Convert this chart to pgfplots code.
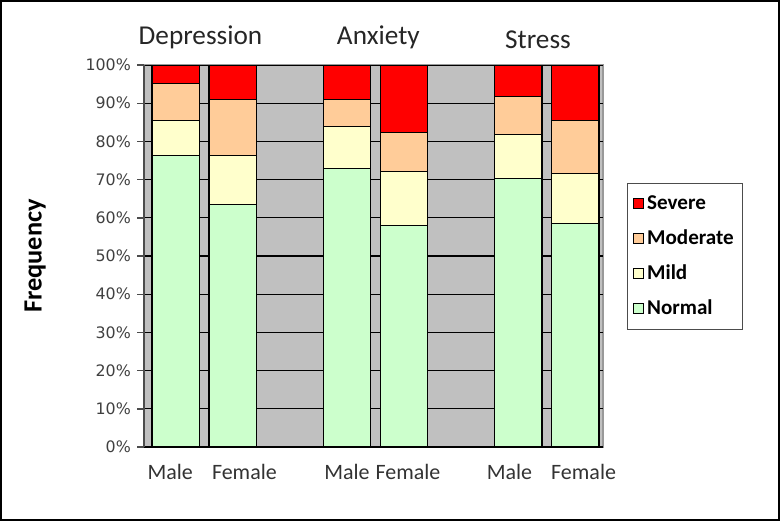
\documentclass[border=0pt]{standalone}
\usepackage{pgfplots}
\pgfplotsset{compat=1.18}
\usepackage{fontspec}
\setmainfont{Carlito}
\newfontfamily\tickfont{DejaVu Sans}

\definecolor{bgray}{RGB}{192,192,192}
\definecolor{cnormal}{RGB}{204,255,204}
\definecolor{cmild}{RGB}{255,255,204}
\definecolor{cmoderate}{RGB}{255,204,153}
\definecolor{csevere}{RGB}{255,0,0}

\begin{document}
\begin{tikzpicture}
\begin{axis}[
    scale only axis,
    width=9.18cm, height=7.64cm,
    ybar stacked,
    bar width=0.84,
    xmin=-0.56, xmax=7.49,
    ymin=0, ymax=100,
    clip=false,
    axis background/.style={fill=bgray, draw=gray!80, line width=0.8pt},
    axis y line*=left,
    axis x line=none,
    y axis line style={draw=black!70, line width=0.8pt, -},
    ytick={0,10,...,100},
    yticklabel={\pgfmathprintnumber{\tick}\%},
    yticklabel style={font=\tickfont\fontsize{9}{10}\selectfont, text=black!75},
    /pgf/number format/assume math mode=true,
    ytick style={draw=black!70, line width=0.8pt},
    tick align=outside,
    major tick length=4pt,
    ymajorgrids,
    major grid style={black, line width=0.6pt},
    ylabel={\textbf{Frequency}},
    ylabel style={font=\fontsize{15}{17}\selectfont, at={(-2.18cm,0.5)}, anchor=center},
    legend style={
      at={(rel axis cs:1,0.5)}, xshift=0.48cm,
      anchor=west,
      draw=black!70, fill=white,
      font=\bfseries\fontsize{12}{14}\selectfont,
      row sep=6pt, inner xsep=3pt, inner ysep=5pt
    },
    legend cell align=left,
    reverse legend,
    legend image code/.code={\draw[#1, draw=black] (0cm,-0.1cm) rectangle (0.2cm,0.1cm);},
    every axis plot/.append style={draw=black, line width=0.6pt},
]
\addplot[fill=cnormal] coordinates {(0,76.2) (1,63.5) (3,72.9) (4,58.0) (6,70.4) (7,58.6)};
\addlegendentry{Normal}
\addplot[fill=cmild] coordinates {(0,9.3) (1,12.9) (3,11.1) (4,14.2) (6,11.4) (7,12.9)};
\addlegendentry{Mild}
\addplot[fill=cmoderate] coordinates {(0,9.7) (1,14.6) (3,7.0) (4,10.2) (6,9.9) (7,13.9)};
\addlegendentry{Moderate}
\addplot[fill=csevere] coordinates {(0,4.8) (1,9.0) (3,9.0) (4,17.6) (6,8.3) (7,14.6)};
\addlegendentry{Severe}

% category labels under the bars
\tikzset{catlab/.style={font=\fontsize{12.5}{14}\selectfont, text=black!80}}
\node[catlab] at (axis cs:-0.1,-6.6) {Male};
\node[catlab] at (axis cs:1.2,-6.6) {Female};
\node[catlab] at (axis cs:3,-6.6) {Male};
\node[catlab] at (axis cs:4.07,-6.6) {Female};
\node[catlab] at (axis cs:5.85,-6.6) {Male};
\node[catlab] at (axis cs:7.15,-6.6) {Female};
% group titles
\node[font=\fontsize{15.5}{17}\selectfont, text=black!85] at (axis cs:0.43,107.3) {Depression};
\node[font=\fontsize{15.5}{17}\selectfont, text=black!85] at (axis cs:3.55,107.3) {Anxiety};
\node[font=\fontsize{15.5}{17}\selectfont, text=black!85] at (axis cs:6.35,106.5) {Stress};
% outer frame
\draw[line width=1.2pt] ([xshift=-2.86cm,yshift=-1.46cm]rel axis cs:0,0) rectangle ([xshift=3.52cm,yshift=1.28cm]rel axis cs:1,1);
\end{axis}
\end{tikzpicture}
\end{document}
